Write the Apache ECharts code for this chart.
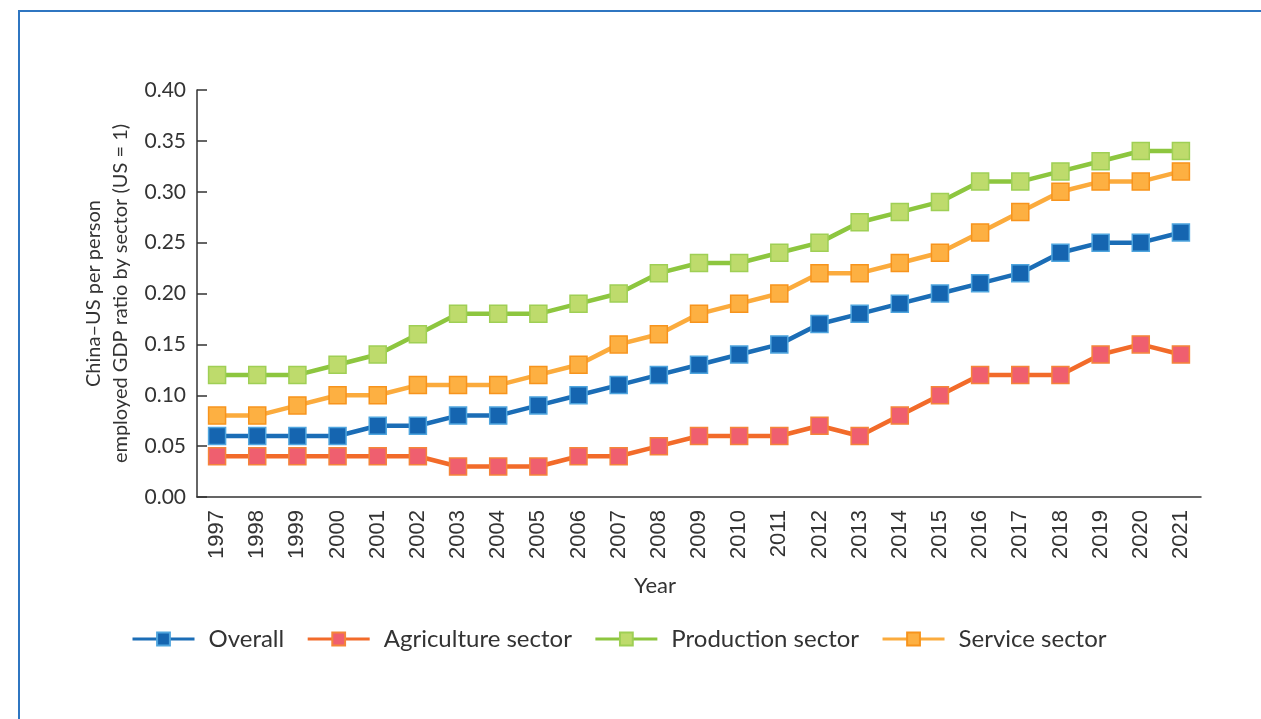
<!DOCTYPE html>
<html>
<head>
<meta charset="utf-8">
<script src="https://cdn.jsdelivr.net/npm/echarts@6/dist/echarts.min.js"></script>
<style>
  html, body { margin: 0; padding: 0; background: #fff; }
  #frame {
    position: absolute; left: 18px; top: 10px; width: 1243px; height: 709px;
    border-top: 2px solid #2f76c1; border-left: 2px solid #2f76c1; box-sizing: border-box;
  }
  #chart { position: absolute; left: 0; top: 0; width: 1261px; height: 719px; }
</style>
</head>
<body>
<div id="frame"></div>
<div id="chart"></div>
<script>
// Years on the horizontal axis
const years = ['1997','1998','1999','2000','2001','2002','2003','2004','2005','2006','2007','2008','2009',
               '2010','2011','2012','2013','2014','2015','2016','2017','2018','2019','2020','2021'];

// China–US per person employed GDP ratio (US = 1)
const overall     = [0.06,0.06,0.06,0.06,0.07,0.07,0.08,0.08,0.09,0.10,0.11,0.12,0.13,0.14,0.15,0.17,0.18,0.19,0.20,0.21,0.22,0.24,0.25,0.25,0.26];
const agriculture = [0.04,0.04,0.04,0.04,0.04,0.04,0.03,0.03,0.03,0.04,0.04,0.05,0.06,0.06,0.06,0.07,0.06,0.08,0.10,0.12,0.12,0.12,0.14,0.15,0.14];
const production  = [0.12,0.12,0.12,0.13,0.14,0.16,0.18,0.18,0.18,0.19,0.20,0.22,0.23,0.23,0.24,0.25,0.27,0.28,0.29,0.31,0.31,0.32,0.33,0.34,0.34];
const service     = [0.08,0.08,0.09,0.10,0.10,0.11,0.11,0.11,0.12,0.13,0.15,0.16,0.18,0.19,0.20,0.22,0.22,0.23,0.24,0.26,0.28,0.30,0.31,0.31,0.32];

const seriesNames = ['Overall', 'Agriculture sector', 'Production sector', 'Service sector'];

const textColor = '#333333';
const sansFont = 'Lato, "Open Sans", sans-serif';

function lineSeries(name, data, lineColor, fill, border) {
  return {
    name: name,
    type: 'line',
    data: data,
    symbol: 'rect',
    symbolSize: 17,
    lineStyle: { color: lineColor, width: 4.5 },
    itemStyle: { color: fill, borderColor: border, borderWidth: 1.5 },
    emphasis: { disabled: true },
    animation: false
  };
}

const chart = echarts.init(document.getElementById('chart'), null, { renderer: 'canvas' });
chart.setOption({
  backgroundColor: 'transparent',
  animation: false,
  grid: { left: 197, right: 60, top: 90, bottom: 222 },
  legend: {
    data: seriesNames,
    left: 131,
    top: 627,
    padding: 0,
    itemWidth: 62,
    itemHeight: 16,
    itemGap: 22,
    lineStyle: { width: 3 },
    textStyle: { color: textColor, fontSize: 24, fontFamily: sansFont, padding: [0, 0, 0, 9] }
  },
  xAxis: {
    type: 'category',
    data: years,
    boundaryGap: true,
    name: 'Year',
    nameLocation: 'middle',
    nameGap: 78,
    nameTextStyle: { color: textColor, fontSize: 22, fontFamily: sansFont, padding: [0, 88, 0, 0] },
    axisLine: { lineStyle: { color: '#333', width: 1.5 } },
    axisTick: { inside: true, length: 10, lineStyle: { color: '#333', width: 1.5 } },
    axisLabel: {
      rotate: 90, margin: 13, interval: 0,
      color: textColor, fontSize: 22, fontFamily: '"Liberation Sans", Arial, sans-serif'
    },
    splitLine: { show: false }
  },
  yAxis: {
    type: 'value',
    min: 0, max: 0.4, interval: 0.05,
    name: 'China–US per person\nemployed GDP ratio by sector (US = 1)',
    nameLocation: 'middle',
    nameGap: 56,
    nameTextStyle: { color: textColor, fontSize: 20, fontFamily: sansFont, lineHeight: 27 },
    axisLine: { show: true, lineStyle: { color: '#333', width: 1.5 } },
    axisTick: { show: true, inside: true, length: 10, lineStyle: { color: '#333', width: 1.5 } },
    axisLabel: {
      margin: 11, color: textColor, fontSize: 21, fontFamily: sansFont,
      formatter: v => v.toFixed(2)
    },
    splitLine: { show: false }
  },
  series: [
    lineSeries('Service sector', service, '#fbab3d', '#fdb042', '#f7941d'),
    lineSeries('Production sector', production, '#8dc63f', '#bedb6c', '#9fcf55'),
    lineSeries('Agriculture sector', agriculture, '#f26b2a', '#ef5f6f', '#f5853a'),
    lineSeries('Overall', overall, '#1b6db6', '#1565b0', '#4fa5de')
  ]
});
</script>
</body>
</html>
